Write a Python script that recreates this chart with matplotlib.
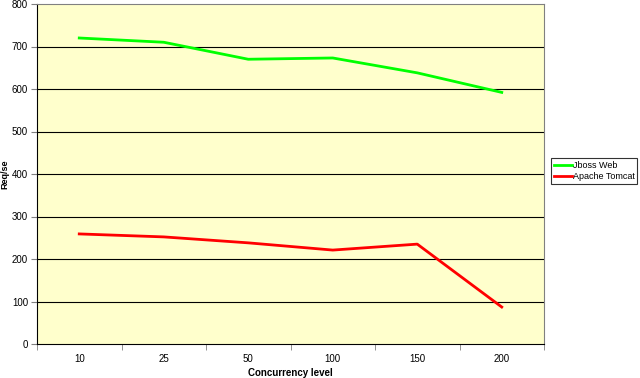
import numpy as np
import matplotlib.pyplot as plt

plt.rcParams['font.family'] = ['Liberation Sans', 'DejaVu Sans']

kategorie = ['10', '25', '50', '100', '150', '200']
jboss = [720, 710, 670, 673, 638, 592]
tomcat = [259, 252, 238, 221, 235, 87]

fig = plt.figure(figsize=(6.4, 3.78), dpi=100)
ax = fig.add_axes([37/640, 1 - 344/378, (544 - 37)/640, 340/378])
ax.set_facecolor('#FFFFCC')

x = np.arange(len(kategorie))
ax.plot(x, jboss, color='#00FF00', lw=2, label='Jboss Web')
ax.plot(x, tomcat, color='#FF0000', lw=2, label='Apache Tomcat')

ax.set_xlim(-0.5, len(kategorie) - 0.5)
ax.set_ylim(0, 800)
ax.set_yticks(range(0, 801, 100))
for v in range(100, 800, 100):
    ax.axhline(v, color='#000000', lw=0.8, zorder=0)

# etykiety na srodku, kreski na granicach kategorii
ax.set_xticks(x)
ax.set_xticklabels(kategorie)
ax.set_xticks(np.arange(-0.5, len(kategorie)), minor=True)
ax.tick_params(axis='x', which='major', length=0, labelsize=7, pad=7)
ax.tick_params(axis='x', which='minor', length=4, color='#808080')
ax.tick_params(axis='y', length=4, labelsize=7, color='#808080', pad=2.5)

for s in ['right', 'top']:
    ax.spines[s].set_color('#808080')
ax.spines['left'].set_color('#000000')
ax.spines['bottom'].set_color('#000000')

ax.set_xlabel('Concurrency level', fontsize=7, fontweight='bold')
ax.xaxis.set_label_coords(0.5, -0.072)
ax.set_ylabel('Req/se', fontsize=6.5, fontweight='bold')
ax.yaxis.set_label_coords(-0.054, 0.5)

leg = fig.legend(loc='upper left', bbox_to_anchor=(551/640, 1 - 158/378), fontsize=6.5,
                 frameon=True, fancybox=False, borderpad=0.3, handlelength=2.0,
                 handletextpad=0.1, labelspacing=0.3, borderaxespad=0)
leg.get_frame().set_edgecolor('#000000')
leg.get_frame().set_linewidth(0.8)

plt.savefig('out.png', dpi=100)
